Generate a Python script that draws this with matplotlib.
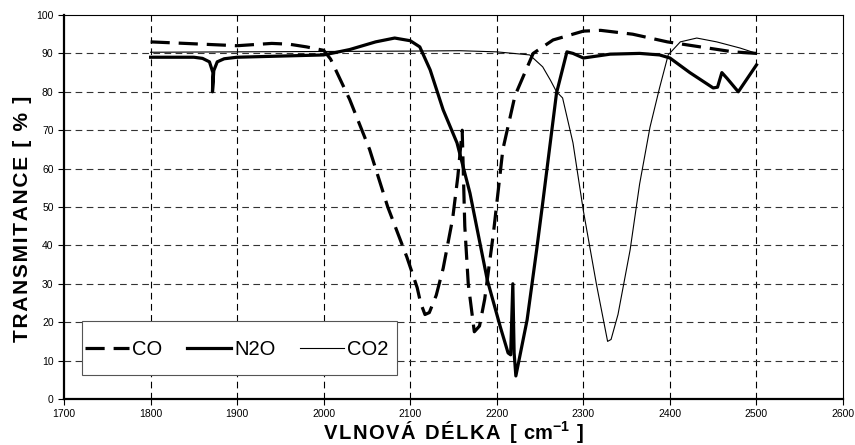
import matplotlib
matplotlib.use("Agg")
from matplotlib import pyplot as plt
from matplotlib.patches import Rectangle

plt.rcParams["font.family"] = ["Liberation Sans", "DejaVu Sans"]

# CO (dashed)
co_x = [1800, 1850, 1900, 1940, 1960, 1980, 2000, 2008, 2030, 2053, 2074, 2096, 2108,
        2112, 2117, 2122, 2130, 2138, 2149, 2155, 2160, 2163, 2167, 2174, 2180, 2186,
        2196, 2207, 2221, 2242, 2265, 2300, 2320, 2357, 2397, 2435, 2473, 2500]
co_y = [93, 92.5, 92, 92.6, 92.4, 91.7, 90.8, 88.5, 78, 65, 50, 37, 29,
        25, 22, 22.5, 27, 34, 47, 58, 70, 45, 30, 17.5, 19, 26,
        43, 65, 79, 90, 93.5, 95.8, 96, 95, 93, 91.7, 90.4, 90]

# N2O (thick solid)
n2o_x = [1800, 1850, 1860, 1868, 1872, 1871.5, 1873, 1877, 1885, 1900, 1950, 2000,
         2030, 2060, 2082, 2100, 2111, 2123, 2138, 2154, 2169, 2189, 2204, 2213,
         2216, 2218.5, 2220, 2222, 2235, 2246, 2253, 2269, 2281, 2288, 2300, 2331,
         2365, 2388, 2400, 2423, 2450, 2455, 2460, 2466, 2479, 2500]
n2o_y = [89, 89, 88.7, 87.8, 85, 80, 85.5, 87.8, 88.6, 89, 89.3, 89.6,
         91, 93, 94, 93.3, 91.7, 85.7, 75.3, 66.7, 53.6, 31, 18.8, 12,
         11.5, 30, 12, 6, 20.6, 38.8, 51, 79.7, 90.4, 90, 88.8, 89.8,
         90, 89.6, 88.8, 85, 81, 81.2, 85, 83.5, 80, 87]

# CO2 (thin solid)
co2_x = [1800, 1900, 2000, 2100, 2157, 2200, 2238, 2253, 2262, 2269, 2276, 2288, 2300,
         2315, 2328, 2332, 2340, 2354, 2365, 2377, 2388, 2398, 2412, 2431, 2454, 2481, 2500]
co2_y = [90.3, 90.4, 90.5, 90.6, 90.7, 90.4, 89.6, 86.5, 83, 80, 78.4, 66.7, 49,
         30, 15, 15.5, 22, 38.8, 56, 70.8, 81, 89.6, 93, 94, 93, 91.4, 90]

x_ticks = list(range(1700, 2601, 100))
y_ticks = list(range(0, 101, 10))

fig = plt.figure(figsize=(8.55, 4.45), dpi=100)
ax = fig.add_axes([0.0749, 0.1034, 0.9111, 0.8629])

ax.plot(co_x, co_y, color='black', lw=2.3, ls=(0, (6, 2.8)), label='CO')
ax.plot(n2o_x, n2o_y, color='black', lw=2.3, label='N2O')
ax.plot(co2_x, co2_y, color='black', lw=0.8, label='CO2')

ax.set_xlim(1700, 2600)
ax.set_ylim(0, 100)
ax.set_xticks(x_ticks)
ax.set_yticks(y_ticks)
ax.tick_params(labelsize=7.5, length=4, width=0.8, direction='out', colors='black')

# grid, skipping the lines on the frame
for xv in x_ticks[1:-1]:
    ax.axvline(xv, color='black', lw=0.8, ls=(0, (6, 4)), zorder=0)
for yv in y_ticks[1:-1]:
    ax.axhline(yv, color='#333333', lw=0.8, ls=(0, (6, 4)), zorder=0)

for s in ['left', 'bottom']:
    ax.spines[s].set_linewidth(1.6)
for s in ['top', 'right']:
    ax.spines[s].set_linewidth(0.8)

# letter-spaced bold labels like the original
sp = '\u200a'
xlab = sp.join('VLNOVÁ DÉLKA [') + sp + ' cm$^{\\mathregular{-1}}$ ' + sp + ']'
ylab = sp.join('TRANSMITANCE [ % ]')
ax.set_xlabel(xlab, fontsize=14.5, fontweight='bold')
ax.set_ylabel(ylab, fontsize=15, fontweight='bold')
ax.xaxis.set_label_coords(0.5, -0.052)
ax.yaxis.set_label_coords(-0.041, 0.47)

# legend box drawn separately: tall padding, tight at the sides
ax.add_patch(Rectangle((0.0231, 0.0625), 0.4044, 0.1405, transform=ax.transAxes,
                       facecolor='white', edgecolor='#555555', lw=0.8, zorder=4))
leg = ax.legend(loc='center left', bbox_to_anchor=(0.027, 0.128), ncol=3, fontsize=14.5,
                handlelength=2.2, handletextpad=0.15, columnspacing=1.2,
                frameon=False, borderpad=0, borderaxespad=0)
leg.set_zorder(5)

plt.savefig('out.png', dpi=100)
